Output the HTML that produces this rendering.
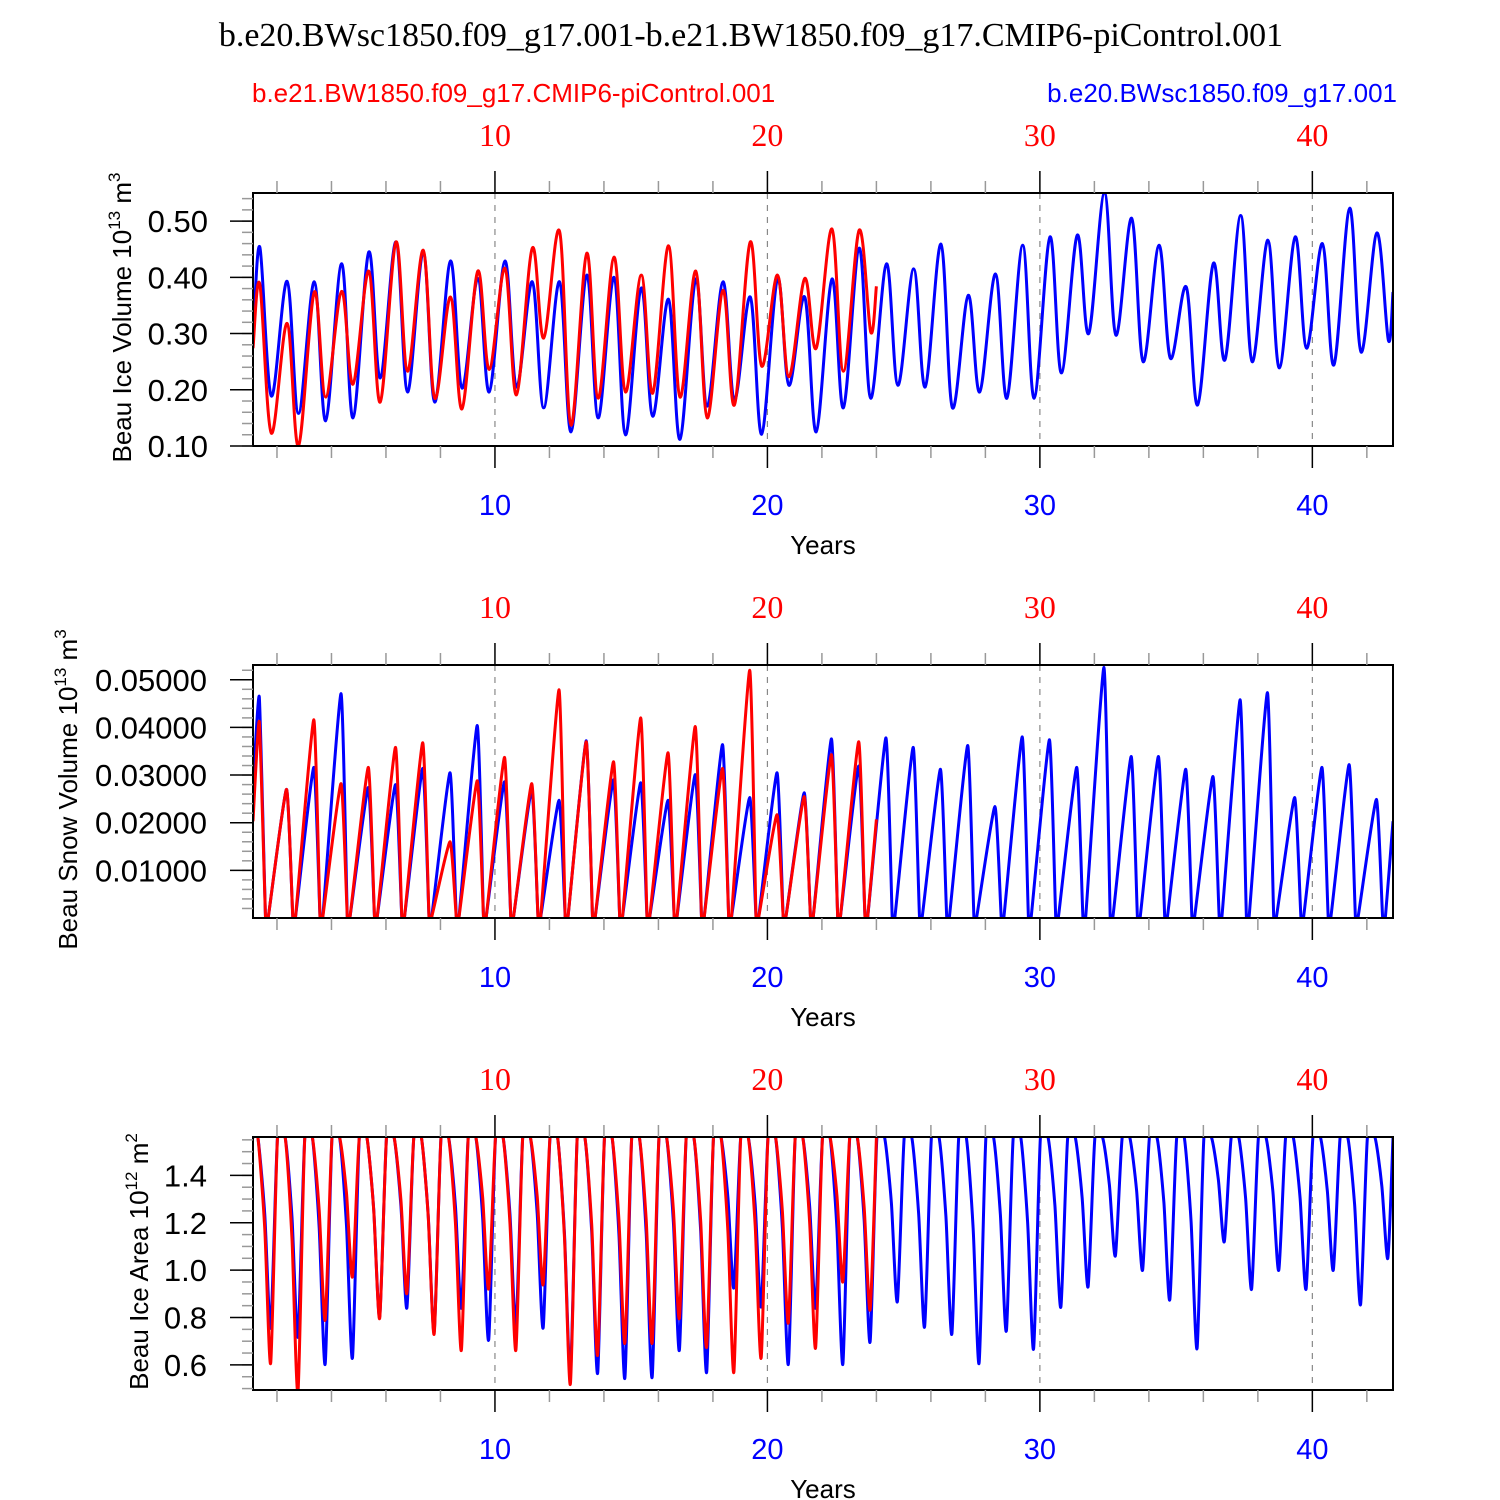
<!DOCTYPE html>
<html><head><meta charset="utf-8"><style>
html,body{margin:0;padding:0;background:#fff;}
svg{display:block;}
.sans{font-family:"Liberation Sans",sans-serif;}
.serif{font-family:"Liberation Serif",serif;}
</style></head>
<body>
<svg id="chart" width="1500" height="1500" viewBox="0 0 1500 1500" xmlns="http://www.w3.org/2000/svg">
<text x="751" y="46" text-anchor="middle" class="serif" font-size="34" fill="#000">b.e20.BWsc1850.f09_g17.001-b.e21.BW1850.f09_g17.CMIP6-piControl.001</text>
<text x="252" y="102" class="sans" font-size="26" fill="#ff0000">b.e21.BW1850.f09_g17.CMIP6-piControl.001</text>
<text x="1397" y="102" text-anchor="end" class="sans" font-size="26" fill="#0000ff">b.e20.BWsc1850.f09_g17.001</text>
<g id="panels"></g>
</svg>
<script>
// ---------- data ----------
const xTicks = [10, 20, 30, 40];
const xTickLabels = ["10", "20", "30", "40"];
const xMinorTicks = [2, 4, 6, 8, 12, 14, 16, 18, 22, 24, 26, 28, 32, 34, 36, 38, 42];

// Panel 1: ice volume, annual peaks and troughs
const iceVolBlueStart = 0.28;
const iceVolBluePeaks = [0.454,0.393,0.392,0.424,0.445,0.463,0.445,0.429,0.398,0.429,0.392,0.392,0.404,0.40,0.381,0.361,0.397,0.392,0.365,0.398,0.365,0.397,0.452,0.424,0.415,0.459,0.368,0.406,0.457,0.472,0.475,0.55,0.505,0.457,0.383,0.425,0.51,0.466,0.472,0.46,0.523,0.479];
const iceVolBlueTroughs = [0.189,0.158,0.145,0.150,0.221,0.196,0.178,0.203,0.196,0.205,0.168,0.125,0.150,0.12,0.153,0.112,0.171,0.182,0.121,0.208,0.125,0.168,0.185,0.208,0.205,0.168,0.196,0.185,0.185,0.23,0.30,0.297,0.25,0.256,0.173,0.253,0.25,0.239,0.274,0.244,0.267,0.288];
const iceVolBlueEnd = 0.374;
const iceVolRedStart = 0.274;
const iceVolRedPeaks = [0.388,0.318,0.374,0.375,0.411,0.463,0.448,0.365,0.411,0.416,0.452,0.482,0.443,0.436,0.404,0.456,0.411,0.377,0.463,0.404,0.398,0.486,0.484];
const iceVolRedTroughs = [0.123,0.10,0.187,0.21,0.178,0.233,0.185,0.166,0.236,0.191,0.292,0.137,0.185,0.196,0.194,0.187,0.150,0.173,0.242,0.223,0.274,0.233,0.303];
const iceVolRedEnd = 0.384;

// Panel 2: snow volume, annual peaks (troughs ~0)
const snowBlueStart = 0.027;
const snowBluePeaks = [0.0464,0.0270,0.0316,0.0471,0.0274,0.0280,0.0314,0.0305,0.0404,0.0286,0.0270,0.0247,0.0372,0.0290,0.0284,0.0247,0.0301,0.0364,0.0253,0.0305,0.0263,0.0376,0.0319,0.0378,0.0358,0.0312,0.0362,0.0234,0.0380,0.0374,0.0316,0.0526,0.0339,0.0339,0.0312,0.0297,0.0458,0.0473,0.0253,0.0316,0.0322,0.0249];
const snowBlueEnd = 0.0203;
const snowRedStart = 0.0203;
const snowRedPeaks = [0.0412,0.0270,0.0416,0.0282,0.0316,0.0358,0.0368,0.0160,0.0288,0.0337,0.0282,0.0479,0.0370,0.0328,0.0420,0.0347,0.0402,0.0314,0.0520,0.0217,0.0255,0.0343,0.0370];
const snowRedEnd = 0.0207;
const snowTrough = 0.0002;

// Panel 3: ice area, plateau and annual minima
const areaPlateau = 1.56;
const areaBlueMins = [0.757,0.719,0.604,0.630,0.803,0.841,0.740,0.841,0.706,0.761,0.757,0.56,0.566,0.545,0.549,0.663,0.570,0.926,0.846,0.604,0.841,0.604,0.697,0.867,0.761,0.731,0.608,0.744,0.668,0.845,0.93,1.06,1.00,0.875,0.67,1.12,0.92,1.00,0.92,1.0,0.855,1.05];
const areaRedMins = [0.608,0.486,0.790,0.972,0.797,0.902,0.731,0.663,0.922,0.663,0.939,0.520,0.642,0.693,0.693,0.797,0.676,0.570,0.630,0.778,0.672,0.951,0.833];

const xStart = 1.12, xEnd = 42.96, redEnd = 24.0;

// ---------- layout ----------
const NS = "http://www.w3.org/2000/svg";
const PL = 253, PR = 1393;
const xScale = v => PL + (v - xStart) / (xEnd - xStart) * (PR - PL);

function mk(tag, attrs, parent) {
  const e = document.createElementNS(NS, tag);
  for (const k in attrs) e.setAttribute(k, attrs[k]);
  parent.appendChild(e);
  return e;
}

function cycleSeries(start, peaks, troughs, end, endT) {
  const pts = [[xStart, start]];
  peaks.forEach((p, i) => { pts.push([i + 1.37, p]); pts.push([i + 1.79, troughs[i]]); });
  pts.push([endT, end]);
  return pts;
}
function snowSeries(start, peaks, end, endT) {
  const pts = [[xStart, start]];
  peaks.forEach((p, i) => {
    pts.push([i + 1.35, p]);
    pts.push([i + 1.58, snowTrough]);
    pts.push([i + 1.68, snowTrough]);
  });
  pts.push([endT, end]);
  return pts;
}
function areaSeries(mins, endT) {
  const pts = [[xStart, areaPlateau]];
  mins.forEach((m, i) => {
    if (i > 0) pts.push([i + 1.02, areaPlateau]);
    pts.push([i + 1.30, areaPlateau]);
    pts.push([i + 1.55, areaPlateau - 0.4 * (areaPlateau - m)]);
    pts.push([i + 1.77, m]);
  });
  pts.push([endT, areaPlateau]);
  return pts;
}
function smoothPath(sp, t) {
  let d = "M" + sp[0][0].toFixed(1) + " " + sp[0][1].toFixed(1);
  for (let i = 0; i < sp.length - 1; i++) {
    const p0 = sp[Math.max(0, i - 1)], p1 = sp[i], p2 = sp[i + 1], p3 = sp[Math.min(sp.length - 1, i + 2)];
    const c1x = p1[0] + (p2[0] - p0[0]) * t, c1y = p1[1] + (p2[1] - p0[1]) * t;
    const c2x = p2[0] - (p3[0] - p1[0]) * t, c2y = p2[1] - (p3[1] - p1[1]) * t;
    d += " C" + c1x.toFixed(1) + " " + c1y.toFixed(1) + " " + c2x.toFixed(1) + " " + c2y.toFixed(1) + " " + p2[0].toFixed(1) + " " + p2[1].toFixed(1);
  }
  return d;
}

const panels = [
  { key: "ice-volume", top: 193, ymin: 0.10, ymax: 0.55, major: [0.10,0.20,0.30,0.40,0.50], labels: ["0.10","0.20","0.30","0.40","0.50"], minorStep: 0.02, minorFrom: 0.10,
    title: "Beau Ice Volume 10", sup: "13", unit: " m", sup2: "3", titleX: 131, labelRight: 208, tension: 0.17,
    blue: cycleSeries(iceVolBlueStart, iceVolBluePeaks, iceVolBlueTroughs, iceVolBlueEnd, xEnd),
    red: cycleSeries(iceVolRedStart, iceVolRedPeaks, iceVolRedTroughs, iceVolRedEnd, redEnd) },
  { key: "snow-volume", top: 665, ymin: 0.0, ymax: 0.0531, major: [0.01,0.02,0.03,0.04,0.05], labels: ["0.01000","0.02000","0.03000","0.04000","0.05000"], minorStep: 0.002, minorFrom: 0.002,
    title: "Beau Snow Volume 10", sup: "13", unit: " m", sup2: "3", titleX: 77, labelRight: 207, tension: 0.08,
    blue: snowSeries(snowBlueStart, snowBluePeaks, snowBlueEnd, xEnd),
    red: snowSeries(snowRedStart, snowRedPeaks, snowRedEnd, redEnd) },
  { key: "ice-area", top: 1137, ymin: 0.494, ymax: 1.562, major: [0.6,0.8,1.0,1.2,1.4], labels: ["0.6","0.8","1.0","1.2","1.4"], minorStep: 0.05, minorFrom: 0.5,
    title: "Beau Ice Area 10", sup: "12", unit: " m", sup2: "2", titleX: 148, labelRight: 207, tension: 0.12,
    blue: areaSeries(areaBlueMins, xEnd),
    red: areaSeries(areaRedMins, redEnd) }
];

const root = document.getElementById("panels");
panels.forEach((p, pi) => {
  const T = p.top, B = T + 253;
  const yScale = v => B - (v - p.ymin) / (p.ymax - p.ymin) * (B - T);
  const g = mk("g", {}, root);
  
  

  xTicks.forEach(t => {
    const l = mk("line", { x1: xScale(t), x2: xScale(t), y1: T, y2: B, stroke: "#888", "stroke-width": 1.2, "stroke-dasharray": "6,6" }, g);
    
    
  });

  const cid = "clip" + pi;
  const cp = mk("clipPath", { id: cid }, g);
  mk("rect", { x: PL, y: T, width: PR - PL, height: B - T }, cp);

  [["blue", "#0000ff"], ["red", "#ff0000"]].forEach(([nm, col]) => {
    const sp = p[nm].map(q => [xScale(q[0]), yScale(q[1])]);
    const path = mk("path", { d: smoothPath(sp, p.tension), fill: "none", stroke: col, "stroke-width": 3, "stroke-linejoin": "round", "clip-path": "url(#" + cid + ")" }, g);
    
    
  });

  const fr = mk("rect", { x: PL, y: T, width: PR - PL, height: B - T, fill: "none", stroke: "#000", "stroke-width": 2 }, g);
  
  

  xTicks.forEach((t, i) => {
    const x = xScale(t);
    mk("line", { x1: x, x2: x, y1: T, y2: T - 22, stroke: "#000", "stroke-width": 1.5 }, g);
    mk("line", { x1: x, x2: x, y1: B, y2: B + 22, stroke: "#000", "stroke-width": 1.5 }, g);
    const tl = mk("text", { x: x, y: T - 47, "text-anchor": "middle", "font-size": 32, fill: "#ff0000", class: "serif" }, g);
    tl.textContent = xTickLabels[i];
    
    
    const bl = mk("text", { x: x, y: B + 69, "text-anchor": "middle", "font-size": 29, fill: "#0000ff", class: "sans" }, g);
    bl.textContent = xTickLabels[i];
    
    
  });
  xMinorTicks.forEach(t => {
    const x = xScale(t);
    mk("line", { x1: x, x2: x, y1: T, y2: T - 12, stroke: "#999", "stroke-width": 1.5 }, g);
    mk("line", { x1: x, x2: x, y1: B, y2: B + 12, stroke: "#999", "stroke-width": 1.5 }, g);
  });
  const yl = mk("text", { x: 823, y: B + 108, "text-anchor": "middle", "font-size": 26, fill: "#000", class: "sans" }, g);
  yl.textContent = "Years";
  
  

  for (let v = p.minorFrom; v <= p.ymax + 1e-9; v += p.minorStep) {
    const y = yScale(v);
    if (y < T - 0.5 || y > B + 0.5) continue;
    mk("line", { x1: PL, x2: PL - 11, y1: y, y2: y, stroke: "#999", "stroke-width": 1.5 }, g);
  }
  p.major.forEach((v, i) => {
    const y = yScale(v);
    mk("line", { x1: PL, x2: PL - 23, y1: y, y2: y, stroke: "#000", "stroke-width": 1.5 }, g);
    const t = mk("text", { x: p.labelRight, y: y + 11, "text-anchor": "end", "font-size": 31, fill: "#000", class: "sans" }, g);
    t.textContent = p.labels[i];
    
    
  });

  const cy = (T + B) / 2 - 2;
  const yt = mk("text", { x: 0, y: 0, "text-anchor": "middle", "font-size": 26, fill: "#000", class: "sans", transform: "translate(" + p.titleX + "," + cy + ") rotate(-90)" }, g);
  
  
  const s1 = mk("tspan", {}, yt); s1.textContent = p.title;
  const s2 = mk("tspan", { dy: -11, "font-size": 17 }, yt); s2.textContent = p.sup;
  const s3 = mk("tspan", { dy: 11 }, yt); s3.textContent = p.unit;
  const s4 = mk("tspan", { dy: -11, "font-size": 17 }, yt); s4.textContent = p.sup2;
});
</script>
</body></html>
